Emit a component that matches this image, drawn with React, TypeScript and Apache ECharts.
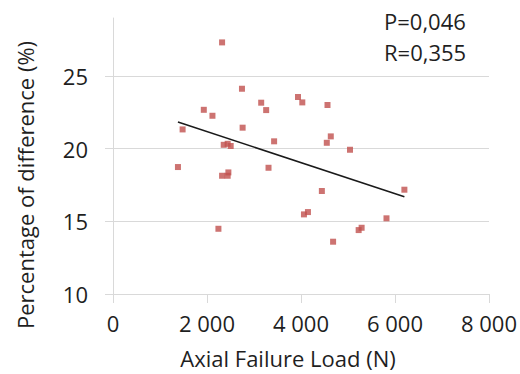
import React, { useEffect, useRef } from "react";
import * as echarts from "echarts";

const loadN: number[] = [2321, 2744, 3153, 3259, 1932, 2116, 2758, 1481, 3428, 2356, 2440, 2504, 1382, 3309, 3936, 4028, 4564, 4634, 4549, 5043, 2321, 2440, 2455, 2243, 4444, 4063, 4148, 4683, 5227, 5290, 5819, 6200];
const diffPct: number[] = [27.32, 24.13, 23.17, 22.66, 22.68, 22.27, 21.45, 21.33, 20.51, 20.27, 20.34, 20.19, 18.74, 18.69, 23.56, 23.19, 23.01, 20.85, 20.41, 19.93, 18.14, 18.14, 18.37, 14.49, 17.09, 15.48, 15.64, 13.6, 14.4, 14.56, 15.21, 17.18];
const trendX: number[] = [1382, 6200];
const trendY: number[] = [21.84, 16.69];
const yTicks: number[] = [10, 15, 20, 25];
const statsText: string[] = ["P=0,046", "R=0,355"];
const xTitle = "Axial Failure Load (N)";
const yTitle = "Percentage of difference (%)";

const FONT = "'Open Sans', sans-serif";
const TXT = "#1f1f1f";
const GRID = "#d9d9d9";

export default function App() {
  const ref = useRef<HTMLDivElement>(null);
  useEffect(() => {
    if (!ref.current) return;
    const chart = echarts.init(ref.current, null, { renderer: "svg" });
    chart.setOption({
      animation: false,
      backgroundColor: "#ffffff",
      grid: { left: 113, right: 29, top: 18, bottom: 80, containLabel: false },
      xAxis: {
        type: "value",
        min: 0,
        max: 8000,
        interval: 2000,
        axisLine: { show: true, onZero: false, lineStyle: { color: GRID, width: 1 } },
        axisTick: { show: true, length: 9, lineStyle: { color: GRID } },
        splitLine: { show: false },
        axisLabel: {
          color: TXT,
          fontFamily: FONT,
          fontSize: 22,
          margin: 18,
          formatter: (v: number) => (v >= 1000 ? `${Math.floor(v / 1000)} ${String(v % 1000).padStart(3, "0")}` : String(v)),
        },
      },
      yAxis: {
        type: "value",
        min: 10,
        max: 29,
        interval: 5,
        axisLine: { show: true, onZero: false, lineStyle: { color: GRID, width: 1 } },
        axisTick: { show: true, length: 8, lineStyle: { color: GRID }, customValues: yTicks },
        splitLine: { show: true, lineStyle: { color: GRID, width: 1 } },
        axisLabel: {
          color: TXT,
          fontFamily: FONT,
          fontSize: 22,
          margin: 25,
          customValues: yTicks,
        },
      },
      series: [
        {
          type: "scatter",
          data: loadN.map((x, i) => [x, diffPct[i]]),
          symbol: "rect",
          symbolSize: 6,
          itemStyle: { color: "#c0504d" },
          z: 3,
        },
        {
          type: "line",
          data: trendX.map((x, i) => [x, trendY[i]]),
          showSymbol: false,
          symbol: "none",
          lineStyle: { color: "#1a1a1a", width: 1.5 },
          z: 4,
        },
      ],
      graphic: [
        {
          type: "text",
          left: 384,
          top: 10,
          style: { text: statsText[0], fill: TXT, font: `22px ${FONT}` },
        },
        {
          type: "text",
          left: 384,
          top: 41,
          style: { text: statsText[1], fill: TXT, font: `22px ${FONT}` },
        },
        {
          type: "text",
          x: 288,
          y: 358,
          style: { text: xTitle, fill: TXT, font: `22px ${FONT}`, textAlign: "center", textVerticalAlign: "middle" },
        },
        {
          type: "text",
          x: 25,
          y: 185,
          rotation: Math.PI / 2,
          style: { text: yTitle, fill: TXT, font: `22px ${FONT}`, textAlign: "center", textVerticalAlign: "middle" },
        },
      ],
    });
    return () => chart.dispose();
  }, []);
  return <div ref={ref} style={{ width: 520, height: 374, position: "absolute", left: 0, top: 0 }} />;
}
